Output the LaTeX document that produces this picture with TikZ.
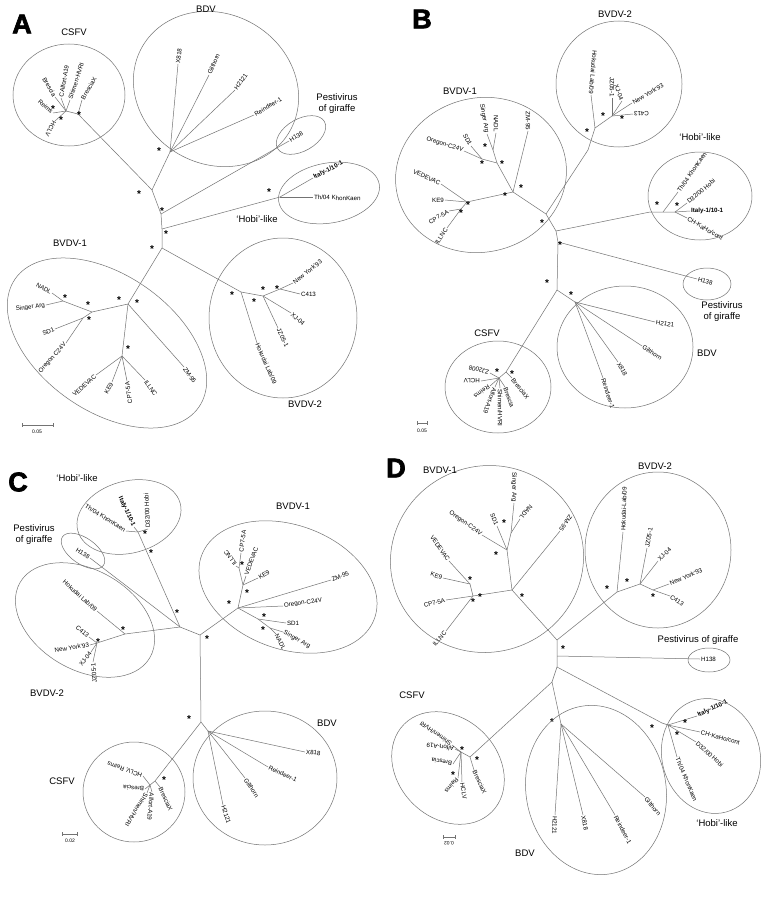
\documentclass[tikz,border=0pt]{standalone}
\usepackage{fontspec}
\setmainfont{Liberation Sans}
\newfontfamily\heavyfont{Liberation Sans Bold}[FakeBold=2.5]
\tikzset{
 br/.style={draw=black!55, line width=0.5pt},
 grp/.style={draw=black!55, line width=0.5pt},
 leaf/.style={font=\fontsize{6.2}{7}\selectfont, inner sep=0.9pt},
 lab/.style={font=\fontsize{9.5}{11}\selectfont, align=center, inner sep=0},
 star/.style={font=\fontsize{10}{10}\selectfont\bfseries, inner sep=0, yshift=-2pt},
 panel/.style={font=\fontsize{27}{27}\heavyfont, inner sep=0},
 sbl/.style={font=\fontsize{5}{6}\selectfont, inner sep=0},
}
\newcommand\lfo[5]{\coordinate (#1) at (#2); \draw[br] (#3) -- (#1); \node[leaf,rotate=#4,anchor=west] (L#1) at (#1) {#5};}
\newcommand\lfi[5]{\coordinate (#1) at (#2); \draw[br] (#3) -- (#1); \node[leaf,rotate=#4,anchor=east] (L#1) at (#1) {#5};}
\newcommand\grpell[5]{\draw[grp, rotate around={#5:(#1,#2)}] (#1,#2) ellipse [x radius=#3, y radius=#4];}
\begin{document}
\begin{tikzpicture}[x=1pt,y=-1pt]
\fill[white] (0,0) rectangle (770,899);
\useasboundingbox (0,0) rectangle (770,899);

%================ PANEL A ================
\node[panel] (pA) at (22,24) {A};
\coordinate (An1) at (152,190);
\coordinate (Abdv) at (170,152);
\coordinate (Acs) at (78,114);
\coordinate (Acs1) at (66,111);
\coordinate (An2) at (161,214);
\coordinate (An3) at (162,229);
\coordinate (An4) at (162,248);
\coordinate (Ahb) at (280,197);
\coordinate (Ab1) at (128,304);
\coordinate (Ab2) at (122,356);
\coordinate (Ab3) at (92,312);
\coordinate (Ab4) at (63,301);
\coordinate (Ab5) at (83,318);
\coordinate (Ac1) at (241,292);
\coordinate (Ac2) at (263,296);
\coordinate (Ac3) at (280,289);
\draw[br] (Acs)--(An1)--(Abdv);
\draw[br] (An1)--(An2)--(An3)--(An4);
\draw[br] (An3)--(Ahb);
\draw[br] (An4)--(Ab1)--(Ab2);
\draw[br] (Ab1)--(Ab3)--(Ab4);
\draw[br] (Ab3)--(Ab5);
\draw[br] (An4)--(Ac1)--(Ac2)--(Ac3);
\draw[br] (Acs)--(Acs1);
\lfo{aX818}{178,64}{Abdv}{84}{X818}
\lfo{aGilt}{209,75}{Abdv}{67}{Gilthorn}
\lfo{aH2121}{235,90}{Abdv}{55}{H2121}
\lfo{aRein}{254,115}{Abdv}{31}{Reindeer-1}
\lfo{aH138}{289,141}{An2}{32}{H138}
\lfo{aItaly}{313,178}{Ahb}{27}{\bfseries Italy-1/10-1}
\lfo{aTh}{313,197}{Ahb}{-2}{Th/04 KhonKaen}
\lfo{aBrX}{82,100}{Acs}{60}{BresciaX}
\lfo{aShim}{70,100}{Acs1}{72}{Shimen-HVRI}
\lfo{aCAlf}{61,98}{Acs1}{80}{CAlfort-A19}
\lfi{aBres}{55,97}{Acs1}{-60}{Brescia}
\lfi{aReims}{53,113}{Acs1}{-42}{Reims}
\lfo{aHCLV}{55,121}{Acs1}{-118}{HCLV}
\lfo{aZM}{184,367}{Ab1}{-55}{ZM-95}
\lfi{aVED}{96,375}{Ab2}{42}{VEDEVAC}
\lfi{aKE9}{112,382}{Ab2}{62}{KE9}
\lfi{aCP}{127,381}{Ab2}{98}{CP7-5A}
\lfo{aILL}{145,380}{Ab2}{-55}{ILLNC}
\lfi{aOreg}{66,343}{Ab5}{48}{Oregon C24V}
\lfi{aSD1}{55,329}{Ab5}{22}{SD1}
\lfi{aSing}{46,305}{Ab4}{8}{Singer Arg}
\lfi{aNADL}{52,293}{Ab4}{-30}{NADL}
\lfo{aHok}{257,343}{Ac1}{-66}{Hokudai Lab/09}
\lfo{aXJ}{291,313}{Ac2}{-42}{XJ-04}
\lfo{aJZ}{278,328}{Ac2}{-64}{JZ05-1}
\lfo{aNY}{293,283}{Ac3}{38}{New York’93}
\lfo{aC413}{300,294}{Ac3}{0}{C413}
\foreach \p [count=\i] in {{159,149},{139,192},{162,209},{166,232},{152,247},{269,190},{61,118},{79,113},{53,107},{137,301},{119,298},{88,303},{65,296},{89,318},{128,347},{232,293},{254,300},{263,288},{277,287}}
 \node[star] (sA\i) at (\p) {*};
\grpell{69}{95}{56}{51}{0}
\grpell{216}{89}{85}{75}{-30}
\grpell{301}{135}{27}{16}{30}
\grpell{329}{193}{51}{30}{10}
\grpell{107}{343}{112}{68}{-35}
\grpell{283}{318}{74}{80}{0}
\node[lab] (gA1) at (74,32) {CSFV};
\node[lab] (gA2) at (206,9) {BDV};
\node[lab] (gA3) at (337,104) {Pestivirus\\of giraffe};
\node[lab] (gA4) at (257,219) {‘Hobi’-like};
\node[lab] (gA5) at (70,243) {BVDV-1};
\node[lab] (gA6) at (305,404) {BVDV-2};
\coordinate (sbA1) at (22,425); \coordinate (sbA2) at (53,425);
\draw[br] (sbA1)--(sbA2); \draw[br] (22,423)--(22,427); \draw[br] (53,423)--(53,427);
\node[sbl] (sbAl) at (37,432) {0.05};

%================ PANEL B ================
\node[panel] (pB) at (422,19) {B};
\coordinate (Bm0) at (546,214);
\coordinate (Bm1) at (556,231);
\coordinate (Bv1) at (513,192);
\coordinate (Bv1a) at (497,163);
\coordinate (Bv1e) at (493,150);
\coordinate (Bv1d) at (482,159);
\coordinate (Bv1b) at (467,202);
\coordinate (Bv1c) at (461,209);
\coordinate (Bv2) at (588,150);
\coordinate (Bv2a) at (595,128);
\coordinate (Bv2b) at (612,116);
\coordinate (Bhb) at (650,212);
\coordinate (Bh1) at (663,212);
\coordinate (Bh2) at (675,212);
\coordinate (Bm2) at (558,242);
\coordinate (Bm3) at (557,290);
\coordinate (Bbdv) at (575,302);
\coordinate (Bcs) at (506,372);
\coordinate (Bcs1) at (499,378);
\draw[br] (Bv1)--(Bm0)--(Bv2)--(Bv2a)--(Bv2b);
\draw[br] (Bm0)--(Bm1)--(Bhb)--(Bh1)--(Bh2);
\draw[br] (Bm1)--(Bm2)--(Bm3)--(Bbdv);
\draw[br] (Bm3)--(Bcs)--(Bcs1);
\draw[br] (Bv1)--(Bv1a)--(Bv1e);
\draw[br] (Bv1a)--(Bv1d);
\draw[br] (Bv1)--(Bv1b)--(Bv1c);
\lfi{bZM}{528,131}{Bv1}{-90}{ZM-95}
\lfi{bNADL}{496,133}{Bv1e}{-90}{NADL}
\lfi{bSing}{487,134}{Bv1e}{-80}{Singer Arg}
\lfi{bSD1}{471,146}{Bv1d}{-62}{SD1}
\lfi{bOreg}{464,151}{Bv1d}{-18}{Oregon-C24V}
\lfi{bVED}{441,184}{Bv1b}{-25}{VEDEVAC}
\lfi{bKE9}{445,200}{Bv1b}{0}{KE9}
\lfi{bCP}{449,211}{Bv1c}{30}{CP7-5A}
\lfi{bILL}{447,228}{Bv1c}{55}{ILLNC}
\lfi{bHok}{591,95}{Bv2a}{-95}{Hokudai Lab/09}
\lfi{bJZ}{612,98}{Bv2b}{-90}{JZ05-1}
\lfi{bXJ}{622,101}{Bv2b}{-70}{XJ-04}
\lfo{bNY}{632,103}{Bv2b}{30}{New York’93}
\lfi{bC413}{633,114}{Bv2b}{180}{C413}
\lfo{bTh}{678,192}{Bh1}{55}{Th/04 KhonKaen}
\lfo{bD32}{687,203}{Bh2}{40}{D32/00 Hobi}
\lfo{bIt}{690,211}{Bh2}{0}{\bfseries Italy-1/10-1}
\lfo{bCH}{687,218}{Bh2}{-30}{CH-KaHo/cont}
\lfo{bH138}{697,279}{Bm2}{-15}{H138}
\lfo{bH2121}{655,322}{Bbdv}{-10}{H2121}
\lfo{bGil}{642,346}{Bbdv}{-32}{Gilthorn}
\lfo{bX818}{618,362}{Bbdv}{-60}{X818}
\lfo{bRein}{603,378}{Bbdv}{-72}{Reindeer-1}
\lfo{bZJ}{490,373}{Bcs1}{165}{ZJ2008}
\lfo{bHCLV}{481,381}{Bcs1}{180}{HCLV}
\lfo{bReims}{490,386}{Bcs1}{-145}{Reims}
\lfo{bAlf}{495,387}{Bcs1}{-110}{Alfort-A19}
\lfo{bShim}{500,388}{Bcs1}{-90}{Shimen/HVRI}
\lfo{bBres}{505,387}{Bcs1}{-70}{Brescia}
\lfo{bBrX}{512,378}{Bcs}{-52}{BresciaX}
\foreach \p [count=\i] in {{482,162},{502,162},{521,186},{505,194},{468,203},{461,211},{542,221},{485,145},{603,114},{587,130},{622,117},{657,203},{677,204},{560,243},{547,281},{571,293},{497,370},{512,372}}
 \node[star] (sB\i) at (\p) {*};
\grpell{619}{84}{63}{63}{0}
\grpell{481}{175}{86}{77}{15}
\grpell{700}{196}{52}{44}{0}
\grpell{707}{284}{24}{16}{0}
\grpell{625}{347}{68}{61}{0}
\grpell{498}{387}{53}{46}{0}
\node[lab] (gB1) at (615,14) {BVDV-2};
\node[lab] (gB2) at (460,91) {BVDV-1};
\node[lab] (gB3) at (700,137) {‘Hobi’-like};
\node[lab] (gB4) at (722,312) {Pestivirus\\of giraffe};
\node[lab] (gB5) at (707,353) {BDV};
\node[lab] (gB6) at (487,333) {CSFV};
\coordinate (sbB1) at (417,423); \coordinate (sbB2) at (427,423);
\draw[br] (sbB1)--(sbB2); \draw[br] (417,421)--(417,425); \draw[br] (427,421)--(427,425);
\node[sbl] (sbBl) at (422,431) {0.05};

%================ PANEL C ================
\node[panel] (pC) at (18,482) {C};
\coordinate (Chb) at (138,532);
\coordinate (Cp1) at (180,627);
\coordinate (Cv2) at (125,634);
\coordinate (Cv2a) at (97,643);
\coordinate (Cp2) at (200,635);
\coordinate (Cv1) at (238,608);
\coordinate (Cv1a) at (258,619);
\coordinate (Cv1b) at (270,628);
\coordinate (Cv1c) at (243,585);
\coordinate (Cv1d) at (239,568);
\coordinate (Cp3) at (201,722);
\coordinate (Cbdv) at (208,731);
\coordinate (Ccs) at (155,781);
\coordinate (Ccs1) at (150,785);
\draw[br] (Chb)--(Cp1)--(Cv2)--(Cv2a);
\draw[br] (Cp1)--(Cp2)--(Cv1)--(Cv1a)--(Cv1b);
\draw[br] (Cv1)--(Cv1c)--(Cv1d);
\draw[br] (Cp2)--(Cp3)--(Cbdv);
\draw[br] (Cp3)--(Ccs)--(Ccs1);
\lfi{cH138}{90,558}{Cp1}{-32}{H138}
\lfi{cTh}{126,531}{Chb}{-32}{Th/04 KhonKaen}
\lfi{cIt}{134,527}{Chb}{-65}{\bfseries Italy-1/10-1}
\lfo{cD32}{148,529}{Chb}{93}{D32/00 Hobi}
\lfi{cHok}{97,611}{Cv2}{-42}{Hokudai Lab/09}
\lfi{cC413}{89,637}{Cv2a}{-40}{C413}
\lfi{cNY}{90,645}{Cv2a}{8}{New York’93}
\lfi{cXJ}{91,652}{Cv2a}{52}{XJ-04}
\lfi{cJZ}{93,662}{Cv2a}{95}{JZ05-1}
\lfo{cOreg}{283,606}{Cv1}{8}{Oregon-C24V}
\lfo{cZM}{331,580}{Cv1}{22}{ZM-95}
\lfo{cSD1}{286,623}{Cv1a}{0}{SD1}
\lfo{cSing}{283,632}{Cv1b}{-28}{Singer Arg}
\lfo{cNADL}{276,634}{Cv1b}{-62}{NADL}
\lfo{cKE9}{258,578}{Cv1c}{30}{KE9}
\lfo{cVED}{246,576}{Cv1c}{70}{VEDEVAC}
\lfo{cILL}{236,566}{Cv1d}{125}{ILLNC}
\lfo{cCP}{241,553}{Cv1d}{82}{CP7-5A}
\lfo{cX818}{305,752}{Cbdv}{-5}{X818}
\lfo{cRein}{268,767}{Cbdv}{-25}{Reindeer-1}
\lfo{cGil}{245,778}{Cbdv}{-57}{Gilthorn}
\lfo{cH2121}{223,805}{Cbdv}{-72}{H2121}
\lfo{cHR}{143,776}{Ccs1}{160}{HCLV, Reims}
\lfo{cBres}{145,789}{Ccs1}{176}{Brescia}
\lfo{cShim}{147,793}{Ccs1}{-122}{Shimen/HVRI}
\lfo{cAlf}{152,792}{Ccs1}{-95}{Alfort-A19}
\lfo{cBrX}{160,787}{Ccs}{-65}{BresciaX}
\foreach \p [count=\i] in {{145,532},{151,551},{177,611},{123,628},{98,640},{207,637},{189,717},{264,615},{263,628},{229,602},{247,591},{242,563},{164,778}}
 \node[star] (sC\i) at (\p) {*};
\grpell{129}{517}{53}{36}{15}
\grpell{83}{551}{25}{13}{-35}
\grpell{85}{620}{75}{50}{-30}
\grpell{288}{587}{92}{62}{-20}
\grpell{265}{778}{72}{67}{0}
\grpell{134}{792}{51}{50}{0}
\node[lab] (gC1) at (77,478) {‘Hobi’-like};
\node[lab] (gC2) at (34,535) {Pestivirus\\of giraffe};
\node[lab] (gC3) at (293,506) {BVDV-1};
\node[lab] (gC4) at (47,693) {BVDV-2};
\node[lab] (gC5) at (327,723) {BDV};
\node[lab] (gC6) at (62,781) {CSFV};
\coordinate (sbC1) at (62,834); \coordinate (sbC2) at (77,834);
\draw[br] (sbC1)--(sbC2); \draw[br] (62,832)--(62,836); \draw[br] (77,832)--(77,836);
\node[sbl] (sbCl) at (70,841) {0.02};

%================ PANEL D ================
\node[panel] (pD) at (396,468) {D};
\coordinate (Dv1a) at (511,533);
\coordinate (Dv1b) at (507,550);
\coordinate (Dr1) at (512,590);
\coordinate (Dk1) at (470,584);
\coordinate (Dk) at (473,596);
\coordinate (Dd1) at (557,640);
\coordinate (Dd2) at (557,656);
\coordinate (Dd3) at (557,667);
\coordinate (Dd4) at (552,682);
\coordinate (Dv2) at (617,592);
\coordinate (Dv2a) at (640,584);
\coordinate (Dv2b) at (653,590);
\coordinate (Dhb) at (662,723);
\coordinate (Dh1) at (668,725);
\coordinate (Dbdv) at (561,724);
\coordinate (Dcs) at (470,757);
\coordinate (Dcs1) at (461,752);
\draw[br] (Dv1a)--(Dv1b)--(Dr1)--(Dd1)--(Dd2)--(Dd3)--(Dd4)--(Dbdv);
\draw[br] (Dk1)--(Dk)--(Dr1);
\draw[br] (Dd1)--(Dv2)--(Dv2a)--(Dv2b);
\draw[br] (Dd3)--(Dhb)--(Dh1);
\draw[br] (Dd4)--(Dcs)--(Dcs1);
\lfi{dSing}{514,503}{Dv1a}{-90}{Singer Arg}
\lfi{dNADL}{520,519}{Dv1a}{-130}{NADL}
\lfi{dSD1}{497,526}{Dv1b}{-68}{SD1}
\lfi{dOreg}{482,535}{Dv1b}{-35}{Oregon-C24V}
\lfi{dZM}{560,531}{Dr1}{-125}{ZM-95}
\lfi{dVED}{449,561}{Dk1}{-55}{VEDEVAC}
\lfi{dKE9}{443,578}{Dk1}{-20}{KE9}
\lfi{dCP}{446,600}{Dk}{15}{CP7-5A}
\lfi{dILL}{446,631}{Dk}{50}{ILLNC}
\lfo{dHok}{623,532}{Dv2}{88}{Hokudai-Lab/09}
\lfo{dJZ}{647,548}{Dv2a}{80}{JZ05-1}
\lfo{dXJ}{658,561}{Dv2a}{45}{XJ-04}
\lfo{dNY}{669,584}{Dv2b}{23}{New York’93}
\lfo{dC413}{670,596}{Dv2b}{-35}{C413}
\lfo{dH138}{700,659}{Dd2}{0}{H138}
\lfo{dIt}{697,716}{Dh1}{25}{\bfseries Italy-1/10-1}
\lfo{dCH}{700,732}{Dh1}{-15}{CH-KaHo/cont}
\lfo{dD32}{696,742}{Dh1}{-42}{D32/00 Hobi}
\lfo{dTh}{677,757}{Dh1}{-67}{Th/04 KhonKaen}
\lfo{dH2121}{555,815}{Dbdv}{-92}{H2121}
\lfo{dX818}{583,815}{Dbdv}{-78}{X818}
\lfo{dRein}{615,815}{Dbdv}{-62}{Reindeer-1}
\lfo{dGil}{645,797}{Dbdv}{-50}{Gilthorn}
\lfo{dShim}{452,745}{Dcs1}{145}{Shimen/HVRI}
\lfo{dAlf}{455,749}{Dcs1}{172}{Alfort-A19}
\lfo{dBres}{453,764}{Dcs1}{170}{Brescia}
\lfo{dReims}{458,778}{Dcs1}{-130}{Reims}
\lfo{dHCLV}{462,782}{Dcs1}{-80}{HCLV}
\lfo{dBrX}{474,770}{Dcs}{-65}{BresciaX}
\foreach \p [count=\i] in {{470,578},{473,600},{480,595},{522,595},{496,553},{504,521},{627,580},{607,587},{653,595},{563,647},{652,726},{685,721},{677,733},{552,720},{462,748},{477,758},{453,773}}
 \node[star] (sD\i) at (\p) {*};
\grpell{487}{559}{97}{93}{20}
\grpell{658}{550}{73}{78}{0}
\grpell{709}{660}{21}{12}{0}
\grpell{711}{756}{49}{58}{15}
\grpell{596}{790}{70}{85}{10}
\grpell{448}{768}{62}{50}{-45}
\node[lab] (gD1) at (440,470) {BVDV-1};
\node[lab] (gD2) at (655,466) {BVDV-2};
\node[lab] (gD3) at (698,640) {Pestivirus of giraffe};
\node[lab] (gD4) at (717,823) {‘Hobi’-like};
\node[lab] (gD5) at (525,853) {BDV};
\node[lab] (gD6) at (412,695) {CSFV};
\coordinate (sbD1) at (443,837); \coordinate (sbD2) at (455,837);
\draw[br] (sbD1)--(sbD2); \draw[br] (443,835)--(443,839); \draw[br] (455,835)--(455,839);
\node[sbl, rotate=180] (sbDl) at (449,843) {0.02};
\end{tikzpicture}
\end{document}
